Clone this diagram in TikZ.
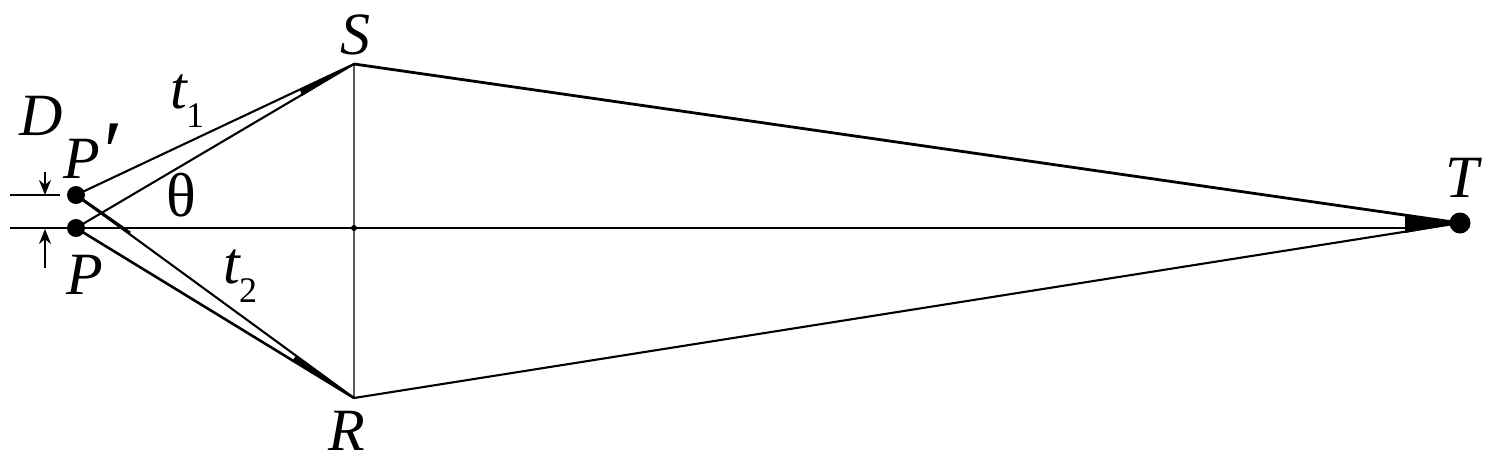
\documentclass[tikz,border=0pt]{standalone}
\usepackage{fontspec}
\setmainfont{Liberation Serif}
\usetikzlibrary{arrows.meta}
\tikzset{
 x=1pt,y=-1pt,
 lab/.style={inner sep=0pt,font=\fontsize{60}{60}\selectfont\itshape},
 sublab/.style={inner sep=0pt,font=\fontsize{36}{36}\selectfont},
 dot/.style={circle,fill=black,inner sep=0pt,minimum size=#1},
 vert/.style={inner sep=0pt,minimum size=0pt},
 thick1/.style={line width=2.8pt},
 mid/.style={line width=2.1pt},
 thin1/.style={line width=1.8pt},
 arr/.style={line width=1.8pt,-{Stealth[length=15pt,width=12pt]}}
}
\begin{document}
\begin{tikzpicture}
\useasboundingbox (0,0) rectangle (1490,461);
\node[dot=18pt] (P) at (76,228) {};
\node[dot=18pt] (Pp) at (76,195) {};
\node[vert] (S) at (354,64) {};
\node[vert] (R) at (354,398) {};
\node[dot=21pt] (T) at (1460,223) {};
\node[vert] (M) at (354,228) {};
\coordinate (M2) at (1420,228);
\coordinate (La) at (10,195);
\coordinate (Lb) at (10,228);
\coordinate (Lc) at (60,195);
\coordinate (Aa) at (45,172);
\coordinate (Ab) at (45,195);
\coordinate (Ac) at (45,268);
\coordinate (Ad) at (45,229);
\coordinate (X) at (130,233);
\coordinate (W1) at (1405,214);
\coordinate (W2) at (1405,233);
\draw[thin1] (Lb) -- (P.center) -- (M.center) -- (M2) -- (T.center);
\draw[thin1] (La) -- (Lc);
\draw[line width=1.5pt,black!65] (S.center) -- (R.center);
\draw[mid] (Pp.center) -- (S.center);
\draw[mid] (P.center) -- (S.center);
\draw[mid] (Pp.center) -- (R.center);
\draw[line width=3pt] (Pp.center) -- (X);
\draw[line width=2.6pt] (P.center) -- (R.center);
\draw[thick1] (S.center) -- (T.center);
\draw[mid] (R.center) -- (T.center);
\fill (W1) -- (T.center) -- (W2) -- cycle;
\fill (S.center) -- (300,90) -- (302,96) -- cycle;
\fill (R.center) -- (296,356) -- (292,361) -- cycle;
\draw[arr] (Aa) -- (Ab);
\draw[arr] (Ac) -- (Ad);
\fill (M) circle (3pt);
\node[lab] (tD) at (41,116) {D};
\node[lab,anchor=base west] (tPp) at (63,178) {P\hspace{-1pt}\raisebox{-3pt}{\fontsize{88}{88}\selectfont\char"2032}};
\node[lab] (tP) at (85,275) {P};
\node[lab] (tS) at (355,35) {S};
\node[lab] (tR) at (347,431) {R};
\node[lab] (tT) at (1462,178) {T};
\node[lab] (tt1) at (179,92) {t};
\node[sublab] (t1s) at (195,116) {1};
\node[lab] (tt2) at (232,267) {t};
\node[sublab] (t2s) at (248,291) {2};
\node[lab] (tth) at (181,195) {\fontsize{62}{62}\selectfont\upshape θ};
\end{tikzpicture}
\end{document}
